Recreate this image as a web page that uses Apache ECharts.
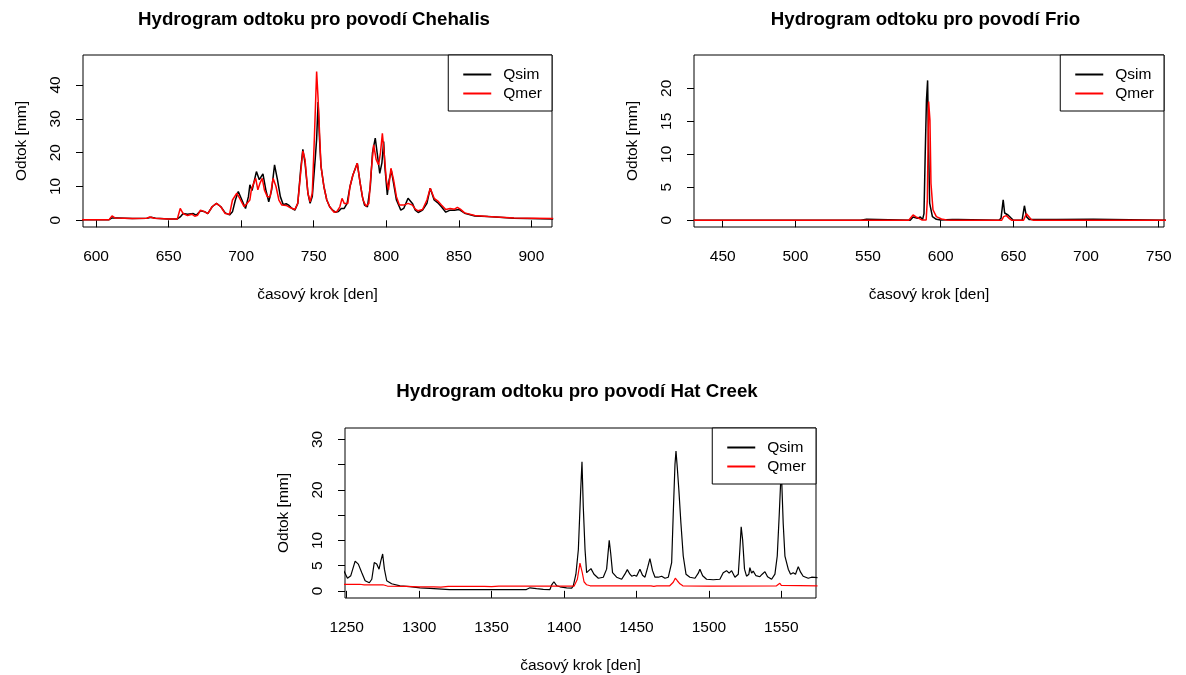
<!DOCTYPE html>
<html>
<head>
<meta charset="utf-8">
<script src="https://cdn.jsdelivr.net/npm/echarts@6/dist/echarts.min.js"></script>
<style>
  html, body { margin: 0; padding: 0; background: #fff; }
  #chart { width: 1186px; height: 675px; }
</style>
</head>
<body>
<div id="chart"></div>
<script>
// ---- Hydrographs: simulated (Qsim) vs. measured (Qmer) runoff, [day, mm] ----
const chehalisQsim = [
  [590,0.2],[609,0.2],[611,0.7],[615,0.7],[625,0.5],[635,0.6],[638,0.9],[641,0.6],[650,0.4],[656,0.4],
  [658,1.0],[660,2.0],[663,1.8],[667,2.0],[669,1.5],[672,2.8],[675,2.5],[677,2.0],[680,4.0],[683,5.0],
  [686,4.0],[689,2.2],[692,1.6],[694,2.5],[696,6.0],[698,8.5],[700,6.5],[703,3.5],[705,7.0],[706,10.5],
  [707.5,8.8],[710.5,14.4],[712.5,12.0],[715,13.7],[717,9.0],[719,5.5],[721,9.0],[723,16.4],[725,12.0],
  [727,7.0],[729,4.6],[731,4.9],[733,4.4],[735,3.5],[737,3.0],[739,5.0],[741,15.0],[742.5,21.0],[744,17.0],
  [746,8.0],[747.5,5.0],[749,7.0],[751,18.0],[752,24.0],[753,35.0],[754,24.0],[755,16.0],[757,10.0],
  [759,6.0],[761,4.0],[763,3.0],[765,2.4],[767,2.6],[769,3.5],[771,3.5],[773,5.0],[775,10.0],[777,13.4],
  [780,16.9],[782,11.0],[783.5,7.0],[785,4.5],[787,4.0],[789,10.0],[790.5,20.0],[792.4,24.3],[794,19.0],
  [795.5,13.9],[797,17.0],[798.2,23.3],[799,16.0],[800.7,7.5],[802,12.0],[803.5,14.7],[805,11.0],[807,6.0],
  [809,4.0],[810,3.0],[812,3.5],[815,6.5],[818,5.0],[820,3.0],[822,2.3],[825,3.0],[828,5.0],[830.3,9.5],
  [833,6.0],[836,5.0],[838,4.0],[841,2.4],[844,3.0],[847,3.0],[850,3.2],[854,2.1],[861,1.3],[870,1.1],
  [888,0.6],[915,0.4]
];
const chehalisQmer = [
  [590,0.2],[609,0.2],[611,1.3],[613,0.7],[625,0.5],[635,0.6],[637,1.0],[640,0.6],[650,0.4],[656,0.4],
  [658,3.5],[660,2.0],[663,1.4],[666,1.8],[668,1.2],[670,1.5],[672,3.0],[675,2.5],[677,2.0],[680,4.0],
  [683,5.0],[686,4.0],[689,2.0],[692,1.8],[694,6.0],[697,8.0],[699,6.5],[702,4.0],[704,5.0],[706,6.0],
  [707,9.0],[709,11.4],[710,12.4],[711.5,9.0],[713,11.0],[714.5,12.4],[716,9.0],[718,7.0],[720,7.0],
  [722,12.4],[724,10.0],[726,6.0],[728,4.5],[731,4.4],[734,3.7],[737,3.2],[739,5.0],[741,14.0],[742.5,20.5],
  [744,18.0],[746,8.0],[747.5,5.5],[749,8.0],[750.5,25.0],[752,44.0],[753,36.0],[754,26.0],[755,16.0],
  [757,10.0],[759,6.0],[761,4.0],[764,2.4],[766,2.6],[768,4.0],[769.5,6.5],[771,5.0],[773.5,5.0],[775,10.0],
  [777,13.4],[780,16.9],[782,11.0],[784,6.0],[786,4.2],[788,5.0],[789.5,14.0],[791.3,22.3],[793,18.0],
  [794.7,16.4],[796,20.0],[797.3,25.7],[798.5,20.0],[800,12.0],[801.5,9.0],[803.2,15.4],[805,12.0],[807,7.0],
  [809,4.5],[812,4.5],[815,5.0],[818,4.5],[820,3.3],[822,2.8],[825,3.2],[828,6.0],[830.3,9.5],[833,6.5],
  [836,5.5],[838,4.5],[841,3.2],[844,3.5],[847,3.3],[849,3.8],[851,3.3],[854,2.2],[861,1.4],[870,1.1],
  [888,0.7],[915,0.5]
];

const frioQsim = [
  [430,0],[545,0],[546,0.15],[549,0.15],[550,0],[579,0],[581,0.5],[582,0.55],[584,0.3],[586,0.5],
  [587.5,0.1],[588.5,1.0],[589.3,9.6],[590.2,18.2],[591,21.2],[591.7,10.7],[592.4,2.6],[594.3,0.55],
  [597,0.15],[600,0.05],[608,0.12],[612,0.12],[613,0],[640,0],[641.5,0.3],[643,3.1],[644,1.1],[646.3,0.8],
  [648.6,0.3],[650,0],[656,0],[657.6,2.2],[659,0.55],[661,0.1],[662,0],[674,0.12],[680,0.12],[681,0],
  [705,0.15],[706,0],[755,0]
];
const frioQmer = [
  [430,0],[547,0],[548,0.2],[549,0],[578,0],[581,0.8],[583,0.5],[585,0.3],[587,0.05],[590,0.05],
  [590.8,3.1],[591.7,18.0],[592.6,15.2],[593.3,5.6],[594.7,1.6],[597,0.55],[600.5,0.2],[604,0.05],[607,0],
  [642,0],[643.3,0.55],[645.2,0.7],[647,0.3],[649,0],[657,0],[659,1.0],[660.2,0.8],[662.4,0.1],[664,0],
  [755,0]
];

const hatQsim = [
  [1248,4.0],[1250.5,2.5],[1252.8,3.0],[1255.8,5.9],[1258,5.3],[1260.4,3.6],[1262.7,2.0],[1265.6,1.6],
  [1267.3,2.3],[1269,5.6],[1270.7,5.3],[1272.3,4.3],[1273.5,5.9],[1274.8,7.3],[1276,4.3],[1277.6,2.0],
  [1281,1.4],[1286.8,1.0],[1293.7,0.85],[1300.6,0.6],[1307.5,0.5],[1321,0.25],[1342,0.25],[1374,0.25],
  [1376.5,0.6],[1381,0.45],[1385.7,0.3],[1390.3,0.25],[1391.5,1.2],[1393,1.8],[1395,1.0],[1397.2,0.8],
  [1401.8,0.6],[1405.3,0.55],[1406.4,1.0],[1408.2,3.3],[1409.9,8.2],[1411.5,19.9],[1412.4,25.6],
  [1413.3,16.6],[1414.5,8.2],[1415.6,3.6],[1416.8,3.5],[1418.6,4.4],[1420.7,3.3],[1423.7,2.5],[1427.1,2.7],
  [1429.4,4.3],[1431.2,10.0],[1432.2,7.5],[1433.5,3.6],[1436.3,2.7],[1439.8,2.3],[1442,3.3],[1443.7,4.2],
  [1445.5,3.3],[1446.7,2.9],[1448.5,3.1],[1450.1,2.9],[1452.4,4.3],[1454.2,3.1],[1455.9,2.7],[1457.7,4.6],
  [1459.3,6.4],[1461.1,4.0],[1462.8,2.7],[1465.1,2.7],[1467.4,2.9],[1469.7,2.5],[1472,2.7],[1474.3,5.6],
  [1475.4,15.3],[1476.6,25.1],[1477.3,27.7],[1478.2,24.4],[1479.3,19.9],[1480.7,13.4],[1482.3,6.9],
  [1484.2,3.3],[1486.9,2.7],[1490.4,2.5],[1492.7,3.5],[1493.8,4.3],[1495.7,3.0],[1498.4,2.3],[1503,2.2],
  [1507.6,2.3],[1509.9,3.6],[1512.2,4.0],[1514,3.5],[1515.7,4.0],[1518,2.7],[1520.3,3.3],[1521.4,8.2],
  [1522.3,12.7],[1523.3,10.1],[1524.6,4.3],[1526,2.9],[1527.6,3.3],[1528.3,4.6],[1529.5,3.5],[1530.6,3.9],
  [1532.5,3.0],[1535.2,2.8],[1536.8,3.3],[1538.7,3.8],[1540.5,2.8],[1543.3,2.3],[1545.6,3.3],[1547.2,6.9],
  [1548.6,15.3],[1549.5,21.2],[1550.2,22.5],[1551.3,13.4],[1552.5,6.9],[1553.6,6.6],[1554.8,4.3],
  [1556.4,3.3],[1558.2,3.6],[1559.8,3.3],[1561.7,4.8],[1563.3,3.7],[1565.1,2.9],[1568.6,2.5],[1570.9,2.7],
  [1575,2.6]
];
const hatQmer = [
  [1248,1.3],[1259,1.3],[1262,1.2],[1275,1.2],[1278,0.95],[1291,0.9],[1300,0.8],[1310,0.8],[1315,0.75],
  [1320,0.9],[1335,0.9],[1345,0.9],[1350,0.85],[1355,0.95],[1380,0.95],[1407,0.95],[1409.2,2.3],[1411,5.5],
  [1411.7,5.6],[1412.6,3.6],[1413.8,1.8],[1415.6,1.2],[1418,1.0],[1460,1.0],[1462,0.9],[1464,1.0],[1473,1.0],
  [1475.4,1.7],[1476.8,2.5],[1478.2,2.0],[1480,1.4],[1482,1.0],[1500,0.95],[1546.7,1.0],[1549,1.5],
  [1550,1.1],[1551,1.0],[1575,1.0]
];

// ---- axis ticks and labels ----
const chehalisXTicks = [600, 650, 700, 750, 800, 850, 900];
const chehalisYTicks = [0, 10, 20, 30, 40];
const frioXTicks = [450, 500, 550, 600, 650, 700, 750];
const frioYTicks = [0, 5, 10, 15, 20];
const hatXTicks = [1250, 1300, 1350, 1400, 1450, 1500, 1550];
const hatYTicks = [0, 5, 10, 15, 20, 25, 30];
const hatYLabels = [0, 5, 10, 20, 30];

const titles = [
  'Hydrogram odtoku pro povodí Chehalis',
  'Hydrogram odtoku pro povodí Frio',
  'Hydrogram odtoku pro povodí Hat Creek'
];
const xName = 'časový krok [den]';
const yName = 'Odtok [mm]';
const seriesNames = ['Qsim', 'Qmer'];

// ---- layout of the three panels (pixels) ----
const FONT = '"Liberation Sans", Arial, sans-serif';
const panels = [
  { box: { left: 83, top: 55, width: 469, height: 172 }, x: [591.0, 914.2], y: [-1.98, 48.87],
    xTicks: chehalisXTicks, yTicks: chehalisYTicks, yLabels: chehalisYTicks,
    sim: chehalisQsim, mer: chehalisQmer, titleX: 314, titleY: 20, lw: 1.5 },
  { box: { left: 694, top: 55, width: 470, height: 172 }, x: [430.25, 753.65], y: [-1.02, 25.05],
    xTicks: frioXTicks, yTicks: frioYTicks, yLabels: frioYTicks,
    sim: frioQsim, mer: frioQmer, titleX: 925.5, titleY: 20, lw: 1.5 },
  { box: { left: 345, top: 428, width: 471, height: 173 }, x: [1248.8, 1573.95], y: [-1.42, 32.28],
    xTicks: hatXTicks, yTicks: hatYTicks, yLabels: hatYLabels,
    sim: hatQsim, mer: hatQmer, titleX: 577, titleY: 392, lw: 1.2 }
];

const textStyle = { color: '#000', fontFamily: FONT, fontSize: 15.5 };
const plain = v => String(v);

const grid = [], xAxis = [], yAxis = [], series = [], legend = [], graphic = [];

panels.forEach((p, i) => {
  grid.push(Object.assign({ show: true, borderColor: '#000', borderWidth: 1,
    backgroundColor: 'transparent', containLabel: false }, p.box));

  xAxis.push({
    gridIndex: i, type: 'value', min: p.x[0], max: p.x[1],
    axisLine: { show: false }, splitLine: { show: false },
    axisTick: { show: true, inside: false, length: 7, customValues: p.xTicks,
      lineStyle: { color: '#000', width: 1 } },
    axisLabel: Object.assign({ customValues: p.xTicks, margin: 22, formatter: plain }, textStyle),
    name: xName, nameLocation: 'middle', nameGap: 60, nameTextStyle: textStyle
  });

  yAxis.push({
    gridIndex: i, type: 'value', min: p.y[0], max: p.y[1],
    axisLine: { show: false }, splitLine: { show: false },
    axisTick: { show: true, inside: false, length: 7, customValues: p.yTicks,
      lineStyle: { color: '#000', width: 1 } },
    axisLabel: Object.assign({ customValues: p.yLabels, rotate: 90, margin: 19, formatter: plain }, textStyle),
    name: yName, nameLocation: 'middle', nameRotate: 90, nameGap: 53, nameTextStyle: textStyle
  });

  series.push({
    name: seriesNames[0], type: 'line', xAxisIndex: i, yAxisIndex: i, data: p.sim,
    showSymbol: false, symbol: 'none', color: '#000', clip: true,
    lineStyle: { color: '#000', width: p.lw }, z: 2
  });
  series.push({
    name: seriesNames[1], type: 'line', xAxisIndex: i, yAxisIndex: i, data: p.mer,
    showSymbol: false, symbol: 'none', color: '#ff0000', clip: true,
    lineStyle: { color: '#ff0000', width: p.lw }, z: 3
  });

  legend.push({
    data: seriesNames, orient: 'vertical', selectedMode: false,
    right: 1186 - (p.box.left + p.box.width), top: p.box.top,
    icon: 'rect', itemWidth: 28, itemHeight: 2, itemGap: 0,
    padding: [10, 10, 8, 15],
    backgroundColor: '#fff', borderColor: '#000', borderWidth: 1, borderRadius: 0,
    textStyle: Object.assign({ lineHeight: 19, padding: [0, 0, 0, 7] }, textStyle),
    z: 10
  });

  graphic.push({
    type: 'text', x: p.titleX, y: p.titleY, silent: true,
    style: { text: titles[i], fill: '#000', align: 'center', verticalAlign: 'middle',
      font: 'bold 18.7px ' + FONT }
  });
});

const chart = echarts.init(document.getElementById('chart'), null, { renderer: 'canvas' });
chart.setOption({
  animation: false,
  backgroundColor: '#fff',
  grid, xAxis, yAxis, series, legend, graphic
});
</script>
</body>
</html>
